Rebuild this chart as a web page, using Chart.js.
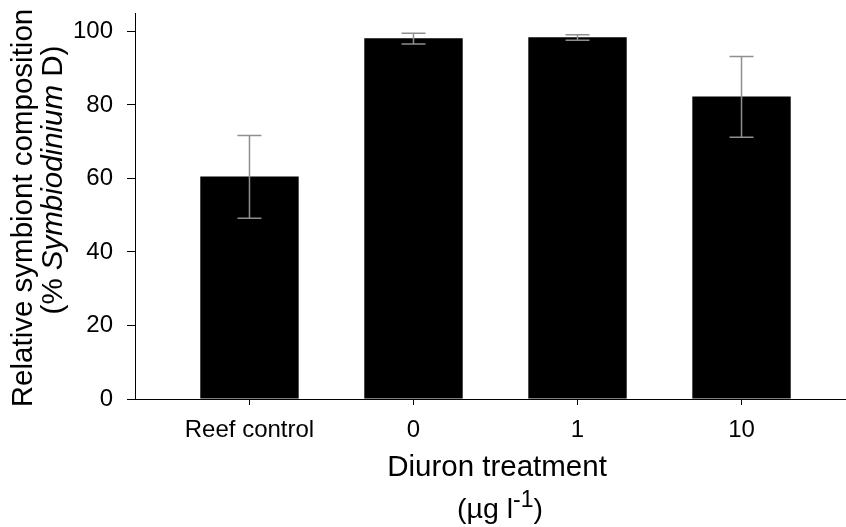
<!DOCTYPE html>
<html>
<head>
<meta charset="utf-8">
<script src="https://cdn.jsdelivr.net/npm/chart.js@4.4.1/dist/chart.umd.min.js"></script>
<style>
  html, body { margin: 0; padding: 0; background: #fff; }
  #wrap { width: 846px; height: 527px; }
</style>
</head>
<body>
<div id="wrap"><canvas id="c" width="846" height="527"></canvas></div>
<script>
const categories = ['Reef control', '0', '1', '10'];
const meanValues = [60.5, 98.1, 98.4, 82.3];
const errUpper = [71.7, 99.5, 99.1, 93.2];
const errLower = [49.2, 96.6, 97.6, 71.2];
const yTickValues = [0, 20, 40, 60, 80, 100];

const FONT = '"Liberation Sans", Arial, Helvetica, sans-serif';

const errorBarPlugin = {
  id: 'errorBars',
  afterDatasetsDraw(chart) {
    const ctx = chart.ctx;
    const xs = chart.scales.x, ys = chart.scales.y;
    ctx.save();
    ctx.strokeStyle = '#8f8f8f';
    ctx.lineWidth = 1.5;
    const cap = 12;
    categories.forEach((c, i) => {
      const x = xs.getPixelForValue(i);
      const yU = ys.getPixelForValue(errUpper[i]);
      const yL = ys.getPixelForValue(errLower[i]);
      ctx.beginPath();
      ctx.moveTo(x, yU); ctx.lineTo(x, yL);
      ctx.moveTo(x - cap, yU); ctx.lineTo(x + cap, yU);
      ctx.moveTo(x - cap, yL); ctx.lineTo(x + cap, yL);
      ctx.stroke();
    });
    ctx.restore();
  }
};

const titlesPlugin = {
  id: 'titles',
  afterDraw(chart) {
    const ctx = chart.ctx;
    ctx.save();
    ctx.fillStyle = '#000';
    ctx.textBaseline = 'alphabetic';
    // X title
    ctx.textAlign = 'center';
    ctx.font = '29.5px ' + FONT;
    ctx.fillText('Diuron treatment', 497, 476);
    // (μg l-1)
    const baseFont = '28.5px ' + FONT;
    const supFont = '23px ' + FONT;
    const parts = [['(\u00b5g l', baseFont, 0], ['-1', supFont, -11], [')', baseFont, 0]];
    let total = 0;
    parts.forEach(p => { ctx.font = p[1]; total += ctx.measureText(p[0]).width; });
    let x = 500 - total / 2;
    ctx.textAlign = 'left';
    parts.forEach(p => {
      ctx.font = p[1];
      ctx.fillText(p[0], x, 518 + p[2]);
      x += ctx.measureText(p[0]).width;
    });
    // Y title (rotated)
    ctx.save();
    ctx.translate(32, 208);
    ctx.rotate(-Math.PI / 2);
    ctx.textAlign = 'center';
    ctx.font = '29.5px ' + FONT;
    ctx.fillText('Relative symbiont composition', 0, 0);
    ctx.restore();
    // line 2 with italic
    ctx.save();
    ctx.translate(62, 180);
    ctx.rotate(-Math.PI / 2);
    const l2 = [['(% ', 'normal 29.5px ' + FONT], ['Symbiodinium', 'italic 29.5px ' + FONT], [' D)', 'normal 29.5px ' + FONT]];
    let w = 0;
    l2.forEach(p => { ctx.font = p[1]; w += ctx.measureText(p[0]).width; });
    let px = -w / 2;
    ctx.textAlign = 'left';
    l2.forEach(p => {
      ctx.font = p[1];
      ctx.fillText(p[0], px, 0);
      px += ctx.measureText(p[0]).width;
    });
    ctx.restore();
    ctx.restore();
  }
};

Chart.defaults.color = '#000';
Chart.defaults.font.family = FONT;

new Chart(document.getElementById('c'), {
  type: 'bar',
  data: {
    datasets: [{
      data: meanValues.map((v, i) => ({ x: i, y: v })),
      backgroundColor: '#000',
      borderWidth: 0,
      categoryPercentage: 1,
      barPercentage: 0.6
    }]
  },
  options: {
    responsive: false,
    animation: false,
    events: [],
    layout: { padding: { top: 13, left: 0, right: 0, bottom: 0 } },
    plugins: { legend: { display: false }, tooltip: { enabled: false }, title: { display: false } },
    scales: {
      x: {
        type: 'linear',
        offset: false,
        min: -0.698,
        max: 3.637,
        afterBuildTicks: s => { s.ticks = categories.map((c, i) => ({ value: i })); },
        afterFit: s => { s.height = 128; s.paddingLeft = 0; s.paddingRight = 0; },
        grid: { display: true, offset: false, drawOnChartArea: false, drawTicks: true, tickLength: 6, color: '#000', tickColor: '#000' },
        border: { display: true, color: '#000', width: 1 },
        ticks: {
          autoSkip: false,
          maxRotation: 0,
          padding: 11,
          font: { size: 24 },
          callback: v => categories[v] !== undefined ? categories[v] : ''
        }
      },
      y: {
        type: 'linear',
        min: 0,
        max: 105,
        afterBuildTicks: s => { s.ticks = yTickValues.map(v => ({ value: v })); },
        afterFit: s => { s.width = 135; s.paddingTop = 0; s.paddingBottom = 0; },
        grid: { display: true, drawOnChartArea: false, drawTicks: true, tickLength: 8, color: '#000', tickColor: '#000' },
        border: { display: true, color: '#000', width: 1 },
        ticks: { padding: 14, font: { size: 24 } }
      }
    }
  },
  plugins: [errorBarPlugin, titlesPlugin]
});
</script>
</body>
</html>
